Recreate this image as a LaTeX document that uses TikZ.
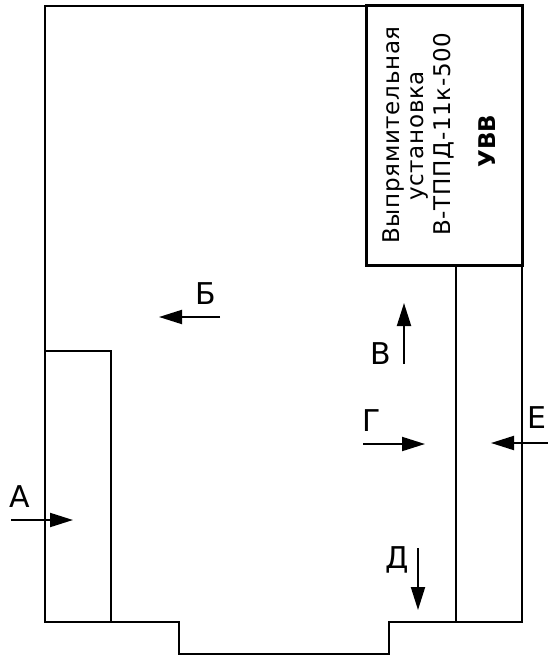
\documentclass[tikz,border=0pt]{standalone}
\usepackage{fontspec}
\setmainfont{DejaVu Sans}
\newfontfamily\lblfont[LetterSpace=3]{DejaVu Sans}
\usetikzlibrary{arrows.meta}
\tikzset{
    wall/.style={line width=1.6pt},
    thickwall/.style={line width=3pt},
    viewarrow/.style={line width=2pt,-{Triangle[length=23pt,width=14pt]}},
    viewlabel/.style={font=\fontsize{30}{30}\selectfont,inner sep=0pt},
    boxtext/.style={font=\lblfont\fontsize{23}{23}\selectfont,rotate=90,inner sep=0pt}
}
\begin{document}
\begin{tikzpicture}[x=1pt,y=-1pt]
          \useasboundingbox (0,0) rectangle (548,655);

          % Outline with the bottom notch
          \draw[wall] (366,6) -- (45,6) -- (45,622) -- (179,622) -- (179,654)
              -- (389,654) -- (389,622) -- (522,622) -- (522,265);

          % Left strip
          \draw[wall] (45,351) -- (111,351) -- (111,622);

          % Right strip
          \draw[wall] (456,265) -- (456,622);

          % Rectifier box
          \draw[thickwall,fill=white] (366,6) rectangle (522,265);
          \node[boxtext] (line1) at (393.5,135) {Выпрямительная};
          \node[boxtext] (line2) at (419.5,136) {установка};
          \node[boxtext] (line3) at (444,134) {В-ТППД-11к-500};
          \node[boxtext,font=\bfseries\fontsize{23}{23}\selectfont] (uvv) at (487,141) {УВВ};

          % View arrows
          \coordinate (a1) at (11,520);
          \coordinate (a2) at (73,520);
          \draw[viewarrow] (a1) -- (a2);
          \node[viewlabel] (A) at (20,497) {А};

          \coordinate (b1) at (220,317);
          \coordinate (b2) at (159,317);
          \draw[viewarrow] (b1) -- (b2);
          \node[viewlabel] (B) at (206,294) {Б};

          \coordinate (v1) at (404,364);
          \coordinate (v2) at (404,303);
          \draw[viewarrow] (v1) -- (v2);
          \node[viewlabel] (V) at (381,354) {В};

          \coordinate (g1) at (363,444);
          \coordinate (g2) at (425,444);
          \draw[viewarrow] (g1) -- (g2);
          \node[viewlabel] (G) at (372,421) {Г};

          \coordinate (d1) at (418,548);
          \coordinate (d2) at (418,610);
          \draw[viewarrow] (d1) -- (d2);
          \node[viewlabel] (D) at (397,560) {Д};

          \coordinate (e1) at (548,443);
          \coordinate (e2) at (491,443);
          \draw[viewarrow] (e1) -- (e2);
          \node[viewlabel,anchor=east] (E) at (547,418) {Е};
\end{tikzpicture}
\end{document}
